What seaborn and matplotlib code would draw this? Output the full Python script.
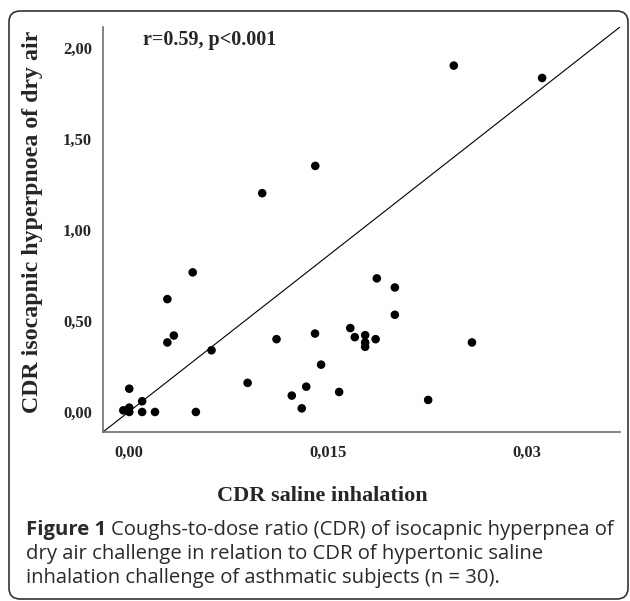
import matplotlib
matplotlib.use("Agg")
import matplotlib.pyplot as plt
from matplotlib.patches import FancyBboxPatch
import seaborn as sns
import pandas as pd

# CDR values
cdr_saline = [-0.00045, 0.0, 0.0, 0.0, 0.00097, 0.00097, 0.00194, 0.00287, 0.00287,
              0.00336, 0.00478, 0.00502, 0.0062, 0.00892, 0.0111, 0.01225, 0.0130,
              0.01334, 0.0140, 0.01446, 0.01582, 0.01666, 0.0170, 0.01778, 0.01778,
              0.01778, 0.01857, 0.01866, 0.02002, 0.02002, 0.02253, 0.02583,
              0.01002, 0.01402, 0.02446, 0.03112]
cdr_dry_air = [0.009, 0.024, 0.0, 0.128, 0.059, 0.0, 0.0, 0.62, 0.382,
               0.42, 0.767, 0.0, 0.339, 0.160, 0.40, 0.09, 0.02,
               0.139, 0.431, 0.26, 0.110, 0.461, 0.411, 0.422, 0.382,
               0.358, 0.40, 0.734, 0.684, 0.534, 0.066, 0.382,
               1.202, 1.352, 1.903, 1.835]

x_ticks = [0.0, 0.015, 0.03]
x_tick_labels = ["0,00", "0,015", "0,03"]
y_ticks = [0.0, 0.5, 1.0, 1.5, 2.0]
y_tick_labels = ["0,00", "0,50", "1,00", "1,50", "2,00"]

df = pd.DataFrame({"saline": cdr_saline, "dry_air": cdr_dry_air})

sns.set_style("white")
serif = ["Liberation Serif", "DejaVu Serif"]
spine_col = "#6e6e6e"

fig = plt.figure(figsize=(6.3, 6.01), dpi=100)
ax = fig.add_axes([103 / 630, 1 - 432 / 601, 517 / 630, 405 / 601])

sns.scatterplot(data=df, x="saline", y="dry_air", color="black", s=38,
                edgecolor="none", ax=ax, zorder=3)

ax.set_xlim(-0.00198, 0.03699)
ax.set_ylim(-0.110, 2.115)

# reference line corner to corner
ax.plot([0, 1], [0, 1], transform=ax.transAxes, color="black", lw=0.8)

ax.set_xticks(x_ticks)
ax.set_xticklabels(x_tick_labels)
ax.set_yticks(y_ticks)
ax.set_yticklabels(y_tick_labels)
for lab in ax.get_xticklabels() + ax.get_yticklabels():
    lab.set_fontfamily(serif)
    lab.set_fontweight("bold")
    lab.set_fontsize(12)
ax.tick_params(axis="x", direction="out", length=6, width=1, color=spine_col, pad=3)
ax.tick_params(axis="y", direction="out", length=7, width=1, color=spine_col, pad=1)

for side in ["top", "right"]:
    ax.spines[side].set_visible(False)
for side in ["left", "bottom"]:
    ax.spines[side].set_color(spine_col)
    ax.spines[side].set_linewidth(1.2)

ax.set_xlabel("CDR saline inhalation", fontfamily=serif, fontweight="bold", fontsize=16)
ax.xaxis.set_label_coords(0.424, -0.158)
ax.xaxis.label.set_verticalalignment("center")
ax.set_ylabel("CDR isocapnic hyperpnoea of dry air", fontfamily=serif,
              fontweight="bold", fontsize=17.2)
ax.yaxis.set_label_coords(-0.137, 0.518)
ax.yaxis.label.set_verticalalignment("center")

ax.text(0.077, 0.968, "r=0.59, p<0.001", transform=ax.transAxes, fontfamily=serif,
        fontweight="bold", fontsize=14.5, va="center", ha="left")

# rounded frame around the figure
frame = FancyBboxPatch((9 / 630, 2 / 601), 619 / 630, 588 / 601,
                       boxstyle="round,pad=0,rounding_size=0.018",
                       transform=fig.transFigure, fill=False,
                       edgecolor="#333333", linewidth=1.2)
fig.patches.append(frame)

# caption
cap_font = ["Open Sans", "DejaVu Sans"]
cap_col = "#2a2a2a"
cap_size = 14.6
t1 = fig.text(26 / 630, 1 - 535 / 601, "Figure 1", fontfamily=cap_font,
              fontweight="bold", fontsize=cap_size, color=cap_col, va="baseline")
fig.canvas.draw()
bb = t1.get_window_extent()
fig.text(bb.x1 / 630 + 5 / 630, 1 - 535 / 601,
         "Coughs-to-dose ratio (CDR) of isocapnic hyperpnea of",
         fontfamily=cap_font, fontsize=cap_size, color=cap_col, va="baseline")
fig.text(26 / 630, 1 - 559 / 601, "dry air challenge in relation to CDR of hypertonic saline",
         fontfamily=cap_font, fontsize=cap_size, color=cap_col, va="baseline")
fig.text(26 / 630, 1 - 583 / 601, "inhalation challenge of asthmatic subjects (n = 30).",
         fontfamily=cap_font, fontsize=cap_size, color=cap_col, va="baseline")

fig.savefig("out.png", dpi=100)
